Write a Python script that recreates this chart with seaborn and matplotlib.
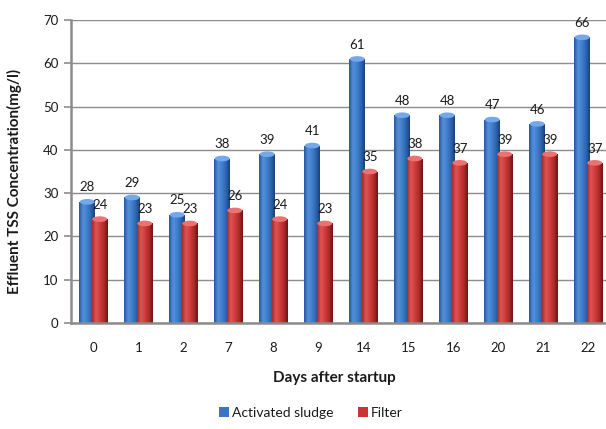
import numpy as np
import pandas as pd
import matplotlib
matplotlib.use("Agg")
import matplotlib.pyplot as plt
import seaborn as sns
from matplotlib.colors import LinearSegmentedColormap
from matplotlib.patches import Ellipse, Patch

# Effluent TSS (mg/l) by day after startup
days = ["0", "1", "2", "7", "8", "9", "14", "15", "16", "20", "21", "22"]
activated_sludge = [28, 29, 25, 38, 39, 41, 61, 48, 48, 47, 46, 66]
filter_tss = [24, 23, 23, 26, 24, 23, 35, 38, 37, 39, 39, 37]
series_names = ["Activated sludge", "Filter"]
y_ticks = [0, 10, 20, 30, 40, 50, 60, 70]

df = pd.DataFrame({
    "day": days * 2,
    "tss": activated_sludge + filter_tss,
    "series": [series_names[0]] * len(days) + [series_names[1]] * len(days),
})

sns.set_theme(style="white")
plt.rcParams["font.family"] = ["Lato", "DejaVu Sans"]

base_colors = {series_names[0]: "#3a74c2", series_names[1]: "#c93434"}
shade_maps = {
    series_names[0]: LinearSegmentedColormap.from_list(
        "blue_cyl", ["#24569c", "#5590da", "#4080cc", "#2f66b0", "#1b4278"]),
    series_names[1]: LinearSegmentedColormap.from_list(
        "red_cyl", ["#a82a2a", "#de5555", "#d03c3c", "#b02c2c", "#6e1414"]),
}
cap_colors = {series_names[0]: "#74a8ea", series_names[1]: "#ea7272"}

fig = plt.figure(figsize=(6.06, 4.29), dpi=100)
ax = fig.add_axes([71 / 606, 1 - 323 / 429, 540 / 606, 303 / 429])

sns.barplot(data=df, x="day", y="tss", hue="series", order=days,
            hue_order=series_names, palette=base_colors, errorbar=None,
            width=0.57, linewidth=0, legend=False, ax=ax)

ax.set_ylim(0, 70)
ax.set_xlim(-0.5, len(days) - 0.5)
ax.set_yticks(y_ticks)

# Slightly overlapping cylinder-style bars
bar_w = 0.345
offset = 0.139
grad = np.linspace(0, 1, 64).reshape(1, -1)
for container, name in zip(ax.containers, series_names):
    sign = -1 if name == series_names[0] else 1
    cmap = shade_maps[name]
    for bar in container:
        idx = round(bar.get_x() + bar.get_width() / 2)
        bar.set_width(bar_w)
        bar.set_x(idx + sign * offset - bar_w / 2)
        bar.set_zorder(3 if sign < 0 else 4)
        x0 = bar.get_x()
        h = bar.get_height()
        im = ax.imshow(grad, cmap=cmap, aspect="auto",
                       extent=[x0, x0 + bar_w, 0, h],
                       zorder=bar.get_zorder() + 0.1, interpolation="bilinear")
        im.set_clip_path(bar)
        cap = Ellipse((x0 + bar_w / 2, h), bar_w * 0.96, 1.3,
                      facecolor=cap_colors[name], edgecolor="none",
                      zorder=bar.get_zorder() + 0.2)
        ax.add_patch(cap)
    ax.bar_label(container, fmt="%g", padding=6, fontsize=9.5,
                 color="#1a1a1a", zorder=6)

ax.set_xlim(-0.5, len(days) - 0.5)
ax.set_ylim(0, 70)

# Grid and spines
ax.yaxis.grid(True, color="#8c8c8c", linewidth=1.0, zorder=0)
ax.set_axisbelow(True)
for side in ["top", "right"]:
    ax.spines[side].set_visible(False)
for side in ["left", "bottom"]:
    ax.spines[side].set_color("#8c8c8c")
    ax.spines[side].set_linewidth(1.8)
ax.spines["bottom"].set_zorder(5)

ax.tick_params(axis="y", length=5, width=1.2, color="#8c8c8c",
               labelsize=9.5, labelcolor="#1a1a1a", pad=4, left=True)
ax.tick_params(axis="x", length=0, labelsize=9.5, labelcolor="#1a1a1a", pad=14)

ax.set_xlabel("")
ax.set_ylabel("")
fig.text(334 / 606, 1 - 378 / 429, "Days after startup", ha="center",
         va="center", fontsize=11, fontweight="bold", color="#1a1a1a")
fig.text(14 / 606, 1 - 181 / 429, "Effluent TSS Concentration(mg/l)",
         rotation=90, ha="center", va="center", fontsize=11,
         fontweight="bold", color="#1a1a1a")

handles = [Patch(facecolor=base_colors[n], edgecolor="none") for n in series_names]
fig.legend(handles, series_names, loc="center",
           bbox_to_anchor=(311 / 606, 1 - 413 / 429), ncol=2, frameon=False,
           handlelength=0.7, handleheight=0.7, handletextpad=0.2,
           columnspacing=1.8, fontsize=10, labelcolor="#1a1a1a")

fig.savefig("out.png", dpi=100)
